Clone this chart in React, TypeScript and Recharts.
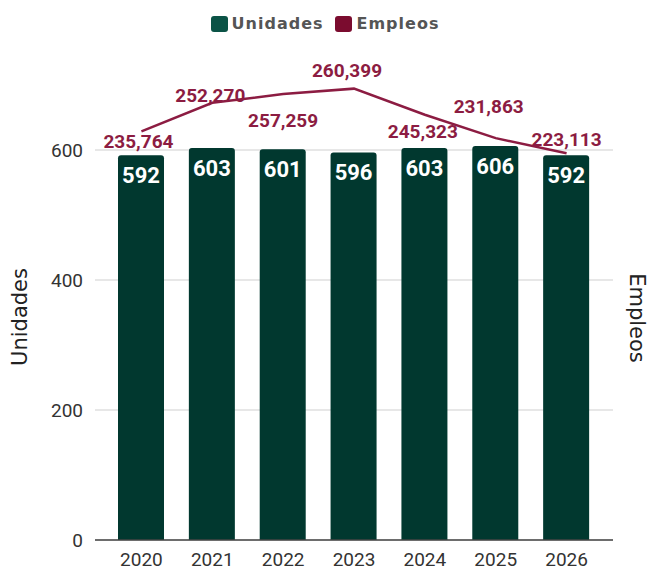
import React from 'react';
import {
  ComposedChart, Bar, Line, XAxis, YAxis, CartesianGrid, Legend, LabelList,
} from 'recharts';

const years = ['2020', '2021', '2022', '2023', '2024', '2025', '2026'];
const unidades = [592, 603, 601, 596, 603, 606, 592];
const empleos = [235764, 252270, 257259, 260399, 245323, 231863, 223113];
const leftTicks = [0, 200, 400, 600];

const data = years.map((y, i) => ({ year: y, unidades: unidades[i], empleos: empleos[i] }));

// label placement (style): offsets of each Empleos label from its point
const lineLabelDx = [-3, -2, 0, -7, -2, -7, 0];
const lineLabelDy = [10, -7, 26, -18, 17, -32, -14];

const BAR_COLOR = '#01382f';
const LINE_COLOR = '#8c1c42';
const LEG_GREEN = '#0b5346';
const LEG_RED = '#7b0c2f';

const fmt = (v: number) => v.toLocaleString('en-US');

const LineLabel = (props: any) => {
  const { x, y, value, index } = props;
  return (
    <text
      x={x + lineLabelDx[index]}
      y={y + lineLabelDy[index]}
      textAnchor="middle"
      dominantBaseline="central"
      fill={LINE_COLOR}
      fontFamily="Roboto"
      fontWeight={700}
      fontSize={19}
    >
      {fmt(value)}
    </text>
  );
};

const LegendContent = () => (
  <div style={{ display: 'flex', justifyContent: 'center', alignItems: 'center', fontFamily: 'DejaVu Sans', fontWeight: 700, fontSize: 16, color: '#555', letterSpacing: 1, lineHeight: '16px' }}>
    <span style={{ display: 'inline-block', width: 17, height: 16, borderRadius: 3, background: LEG_GREEN, marginRight: 4 }} />
    <span style={{ marginRight: 11 }}>Unidades</span>
    <span style={{ display: 'inline-block', width: 17, height: 16, borderRadius: 3, background: LEG_RED, marginRight: 5 }} />
    <span>Empleos</span>
  </div>
);

const LeftTitle = (props: any) => {
  const { viewBox } = props;
  const x = viewBox.x + 20;
  const y = viewBox.y + viewBox.height / 2 + 37;
  return (
    <text x={x} y={y} transform={`rotate(-90 ${x} ${y})`} textAnchor="middle" dominantBaseline="central" fontFamily="DejaVu Sans" fontSize={21} fill="#222">
      Unidades
    </text>
  );
};

const RightTitle = (props: any) => {
  const { viewBox } = props;
  const x = viewBox.x + viewBox.width - 13;
  const y = viewBox.y + viewBox.height / 2 + 38;
  return (
    <text x={x} y={y} transform={`rotate(90 ${x} ${y})`} textAnchor="middle" dominantBaseline="central" fontFamily="DejaVu Sans" fontSize={21} fill="#222">
      Empleos
    </text>
  );
};

export default function App() {
  return (
    <div style={{ position: 'absolute', left: 0, top: 0, background: '#fff' }}>
      <ComposedChart width={650} height={570} data={data} margin={{ top: 20, right: 0, bottom: 0, left: 0 }}>
        <CartesianGrid yAxisId="left" vertical={false} syncWithTicks stroke="#cfcfcf" strokeWidth={1} />
        <XAxis
          dataKey="year"
          height={30}
          padding={{ left: 11, right: 11 }}
          tickLine={false}
          axisLine={{ stroke: '#444', strokeWidth: 1.5 }}
          tick={{ fill: '#333', fontSize: 19, fontFamily: 'Roboto' }}
          tickMargin={7}
          interval={0}
        />
        <YAxis
          yAxisId="left"
          width={95}
          domain={[0, 800]}
          ticks={leftTicks}
          tickLine={false}
          axisLine={false}
          tick={{ fill: '#333', fontSize: 19, fontFamily: 'Roboto' }}
          tickMargin={6}
          label={<LeftTitle />}
        />
        <YAxis
          yAxisId="right"
          orientation="right"
          width={37}
          domain={[0, 300000]}
          tick={false}
          tickLine={false}
          axisLine={false}
          label={<RightTitle />}
        />
        <Legend
          layout="horizontal"
          align="center"
          verticalAlign="middle"
          wrapperStyle={{ top: 16, left: 0, width: 650 }}
          content={<LegendContent />}
        />
        <Bar yAxisId="left" dataKey="unidades" name="Unidades" fill={BAR_COLOR} barSize={46} radius={[3, 3, 0, 0]} isAnimationActive={false}>
          <LabelList dataKey="unidades" position="insideTop" offset={12} fill="#fff" fontFamily="Roboto" fontWeight={700} fontSize={22} />
        </Bar>
        <Line yAxisId="right" dataKey="empleos" name="Empleos" stroke={LINE_COLOR} strokeWidth={2.5} dot={false} type="linear" isAnimationActive={false}>
          <LabelList dataKey="empleos" content={<LineLabel />} />
        </Line>
      </ComposedChart>
    </div>
  );
}
